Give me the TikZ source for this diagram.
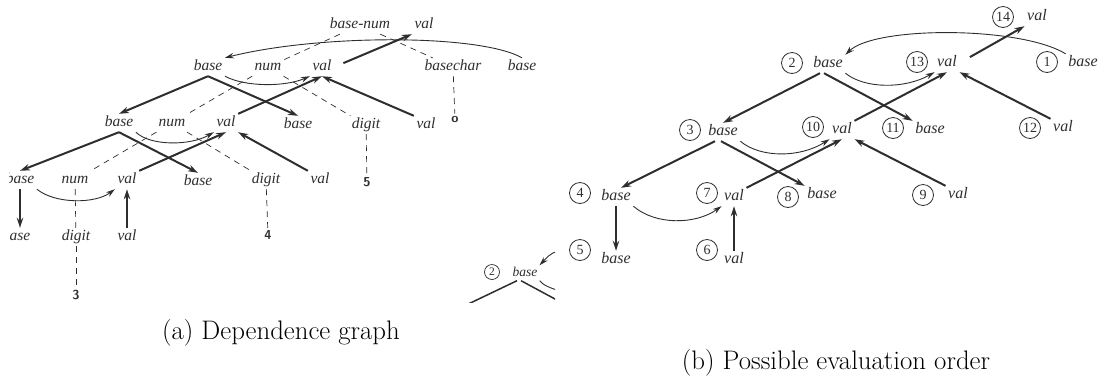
\documentclass[tikz,border=0pt]{standalone}
\usepackage{fontspec}
\newfontfamily\tms{Liberation Serif}
\usetikzlibrary{arrows.meta}
\definecolor{ink}{gray}{0.18}
\begin{document}
\begin{tikzpicture}[x=1pt,y=-1pt,
  lab/.style={font=\tms\itshape\fontsize{15.5}{18}\selectfont, inner sep=2.5pt, text=ink, text height=10pt, text depth=3pt},
  rlab/.style={font=\tms\itshape\fontsize{16}{18}\selectfont, inner sep=2.5pt, text=ink, text height=10pt, text depth=3pt},
  slab/.style={font=\tms\itshape\fontsize{13.5}{16}\selectfont, inner sep=2pt, text=ink, text height=9pt, text depth=2pt},
  leaf/.style={font=\sffamily\bfseries\fontsize{13}{15}\selectfont, inner sep=2pt, text=ink},
  ordc/.style={draw=ink, circle, minimum size=21pt, inner sep=0pt, line width=0.8pt, text=ink, font=\tms\fontsize{14}{14}\selectfont},
  sordc/.style={draw=ink, circle, minimum size=15pt, inner sep=0pt, line width=0.7pt, text=ink, font=\tms\fontsize{11.5}{12}\selectfont},
  treeedge/.style={draw=ink, line width=0.7pt, dash pattern=on 6pt off 5pt},
  depend/.style={draw=ink, line width=2pt, -{Stealth[length=10pt,width=6.5pt]}},
  plainln/.style={draw=ink, line width=1.8pt},
  thinarr/.style={draw=ink, line width=0.9pt, -{Stealth[length=9pt,width=5.5pt]}},
  thinln/.style={draw=ink, line width=0.9pt},
  caption/.style={font=\fontsize{26.8}{32}\selectfont, inner sep=0pt}
]
\useasboundingbox (0,0) rectangle (1104,376);

% ================= (a) Dependence graph =================
\begin{scope}
\clip (9,0) rectangle (560,376);
\node[lab] (bn) at (360,25) {base-num};
\node[lab] (tv) at (424,25) {val};
\node[lab] (b1) at (208,67) {base};
\node[lab] (n1) at (268,67) {num};
\node[lab] (v1) at (322,67) {val};
\node[lab] (bc) at (453,67) {basechar};
\node[lab] (bR) at (522,67) {base};
\node[lab] (b2) at (119,123) {base};
\node[lab] (n2) at (172,123) {num};
\node[lab] (v2) at (226,123) {val};
\node[lab] (b2r) at (298,125) {base};
\node[lab] (d2) at (366,125) {digit};
\node[lab] (v2r) at (426,125) {val};
\node[lab] (b3) at (20,180) {base};
\node[lab] (n3) at (75,180) {num};
\node[lab] (v3) at (127,180) {val};
\node[lab] (b3r) at (198,182) {base};
\node[lab] (d3) at (266,180) {digit};
\node[lab] (v3r) at (320,180) {val};
\node[lab] (b4) at (16,237) {base};
\node[lab] (d4) at (76,237) {digit};
\node[lab] (v4) at (127,237) {val};
\node[leaf] (l3) at (76,295) {3};
\node[leaf] (l4) at (268,235) {4};
\node[leaf] (l5) at (367,182) {5};
\node[leaf] (lo) at (455,119) {o};

% tree edges
\draw[treeedge] (bn) -- (n1);
\draw[treeedge] (bn) -- (bc);
\draw[treeedge] (n1) -- (n2);
\draw[treeedge] (n1) -- (d2);
\draw[treeedge] (n2) -- (n3);
\draw[treeedge] (n2) -- (d3);
\draw[treeedge] (n3) -- (d4);
\draw[treeedge] (d4) -- (l3);
\draw[treeedge] (d3) -- (l4);
\draw[treeedge] (d2) -- (l5);
\draw[treeedge] (bc) -- (lo);

% dependencies
\draw[depend] (b1.south) -- (b2.north);
\draw[depend] (b1.south) -- (b2r.north);
\draw[depend] (v2.north east) -- (v1.south);
\draw[depend] (v2r.north west) -- (v1.south);
\draw[depend, shorten <=10pt] (v1.east) -- (tv.south west);
\draw[depend] (b2.south) -- (b3.north);
\draw[depend] (b2.south) -- (b3r.north);
\draw[depend] (v3.north east) -- (v2.south);
\draw[depend] (v3r.north west) -- (v2.south east);
\draw[depend] (b3.south) -- (b3.south |- b4.north);
\draw[depend] (v4.north) -- (v3.south);

\draw[thinarr] (bR.north) .. controls (480,34) and (320,34) .. (b1.north east);
\draw[thinarr] (b1.south east) .. controls (245,87) and (285,87) .. (v1.south west);
\draw[thinarr] (b2.south east) .. controls (150,146) and (190,146) .. (v2.south west);
\draw[thinarr] (b3.south east) .. controls (55,204) and (95,204) .. (v3.south west);
\end{scope}

\node[caption] (capa) at (281,333) {(a) Dependence graph};

% ================= (b) Possible evaluation order =================
\node[ordc] (c14) at (1003,17) {14};  \node[rlab] (t14) at (1037,17) {val};
\node[ordc] (c2)  at (792,63)  {2};   \node[rlab] (t2)  at (828,64)  {base};
\node[ordc] (c13) at (917,62)  {13};  \node[rlab] (t13) at (947,63)  {val};
\node[ordc] (c1)  at (1047,62) {1};   \node[rlab] (t1)  at (1083,63) {base};
\node[ordc] (c3)  at (690,130) {3};   \node[rlab] (t3)  at (723,132) {base};
\node[ordc] (c10) at (813,127) {10};  \node[rlab] (t10) at (842,130) {val};
\node[ordc] (c11) at (893,128) {11};  \node[rlab] (t11) at (930,130) {base};
\node[ordc] (c12) at (1030,128) {12}; \node[rlab] (t12) at (1063,128) {val};
\node[ordc] (c4)  at (580,193) {4};   \node[rlab] (t4)  at (616,197) {base};
\node[ordc] (c7)  at (707,193) {7};   \node[rlab] (t7)  at (734,197) {val};
\node[ordc] (c8)  at (788,197) {8};   \node[rlab] (t8)  at (822,195) {base};
\node[ordc] (c9)  at (923,195) {9};   \node[rlab] (t9)  at (958,195) {val};
\node[ordc] (c5)  at (580,250) {5};   \node[rlab] (t5)  at (616,260) {base};
\node[ordc] (c6)  at (707,250) {6};   \node[rlab] (t6)  at (734,260) {val};

\draw[thinarr] (t1.north west) .. controls (1020,26) and (875,26) .. (t2.north east);
\draw[thinarr] (t2.south east) .. controls (865,89) and (905,89) .. (t13.south west);
\draw[depend, shorten <=12pt] (t13.east) -- (t14.south west);
\draw[depend] (t12.north west) -- (t13.south east);
\draw[depend] (t10.north east) -- (t13.south);
\draw[depend] ([xshift=-8pt]t2.south) -- (t3.north);
\draw[depend] ([xshift=-4pt]t2.south) -- (t11.north west);
\draw[depend] ([xshift=-8pt]t3.south) -- ([xshift=5pt]t4.north);
\draw[depend] ([xshift=-2pt]t3.south) -- (t8.north west);
\draw[thinarr] (t3.south east) .. controls (760,158) and (800,158) .. (t10.south west);
\draw[depend] (t7.north east) -- (t10.south);
\draw[depend] (t9.north west) -- (t10.south east);
\draw[depend] (t4.south) -- (t5.north);
\draw[depend] (t6.north) -- (t7.south);
\draw[thinarr] (t4.south east) .. controls (655,225) and (695,225) .. (t7.south west);

% small cropped inset
\begin{scope}
\clip (440,240) rectangle (555,302);
\node[sordc] (ic2) at (492,272) {2};
\node[slab] (it2) at (525,273) {base};
\coordinate (ia) at (570,250);
\coordinate (ib) at (462,307);
\coordinate (ic) at (568,306);
\coordinate (id) at (568,294);
\draw[thinarr] (ia) .. controls (552,252) .. (it2.north east);
\draw[plainln, line width=1.5pt] ([xshift=-8pt]it2.south) -- (ib);
\draw[plainln, line width=1.5pt] ([xshift=-4pt]it2.south) -- (ic);
\draw[thinln] (it2.south east) .. controls (545,286) .. (id);
\end{scope}

\node[caption] (capb) at (836,363) {(b) Possible evaluation order};
\end{tikzpicture}
\end{document}
